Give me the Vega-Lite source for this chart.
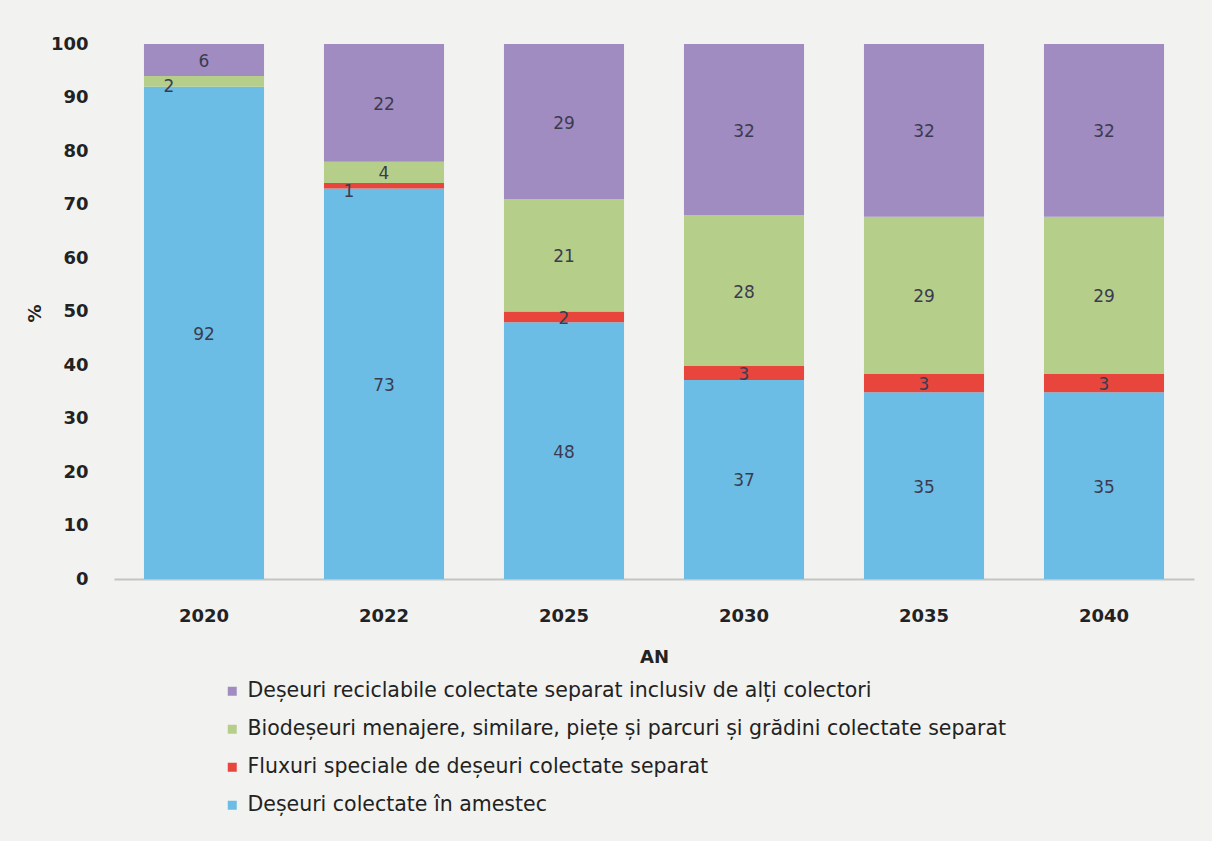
{
  "$schema": "https://vega.github.io/schema/vega-lite/v6.json",
  "width": 1080,
  "height": 535,
  "autosize": "none",
  "padding": {"left": 114, "top": 44, "right": 18, "bottom": 262},
  "background": "#f2f2f0",
  "config": {"view": {"stroke": null}, "font": "DejaVu Sans"},
  "data": {"values": [
    {"an": "2020", "cat": "Deșeuri colectate în amestec", "ord": 1, "val": 92},
    {"an": "2020", "cat": "Fluxuri speciale de deșeuri colectate separat", "ord": 2, "val": 0},
    {"an": "2020", "cat": "Biodeșeuri menajere, similare, piețe și parcuri și grădini colectate separat", "ord": 3, "val": 2},
    {"an": "2020", "cat": "Deșeuri reciclabile colectate separat inclusiv de alți colectori", "ord": 4, "val": 6},
    {"an": "2022", "cat": "Deșeuri colectate în amestec", "ord": 1, "val": 73},
    {"an": "2022", "cat": "Fluxuri speciale de deșeuri colectate separat", "ord": 2, "val": 1},
    {"an": "2022", "cat": "Biodeșeuri menajere, similare, piețe și parcuri și grădini colectate separat", "ord": 3, "val": 4},
    {"an": "2022", "cat": "Deșeuri reciclabile colectate separat inclusiv de alți colectori", "ord": 4, "val": 22},
    {"an": "2025", "cat": "Deșeuri colectate în amestec", "ord": 1, "val": 48},
    {"an": "2025", "cat": "Fluxuri speciale de deșeuri colectate separat", "ord": 2, "val": 2},
    {"an": "2025", "cat": "Biodeșeuri menajere, similare, piețe și parcuri și grădini colectate separat", "ord": 3, "val": 21},
    {"an": "2025", "cat": "Deșeuri reciclabile colectate separat inclusiv de alți colectori", "ord": 4, "val": 29},
    {"an": "2030", "cat": "Deșeuri colectate în amestec", "ord": 1, "val": 37.2},
    {"an": "2030", "cat": "Fluxuri speciale de deșeuri colectate separat", "ord": 2, "val": 2.6},
    {"an": "2030", "cat": "Biodeșeuri menajere, similare, piețe și parcuri și grădini colectate separat", "ord": 3, "val": 28.2},
    {"an": "2030", "cat": "Deșeuri reciclabile colectate separat inclusiv de alți colectori", "ord": 4, "val": 32},
    {"an": "2035", "cat": "Deșeuri colectate în amestec", "ord": 1, "val": 34.9},
    {"an": "2035", "cat": "Fluxuri speciale de deșeuri colectate separat", "ord": 2, "val": 3.4},
    {"an": "2035", "cat": "Biodeșeuri menajere, similare, piețe și parcuri și grădini colectate separat", "ord": 3, "val": 29.4},
    {"an": "2035", "cat": "Deșeuri reciclabile colectate separat inclusiv de alți colectori", "ord": 4, "val": 32.3},
    {"an": "2040", "cat": "Deșeuri colectate în amestec", "ord": 1, "val": 34.9},
    {"an": "2040", "cat": "Fluxuri speciale de deșeuri colectate separat", "ord": 2, "val": 3.4},
    {"an": "2040", "cat": "Biodeșeuri menajere, similare, piețe și parcuri și grădini colectate separat", "ord": 3, "val": 29.4},
    {"an": "2040", "cat": "Deșeuri reciclabile colectate separat inclusiv de alți colectori", "ord": 4, "val": 32.3}
  ]},
  "transform": [
    {"stack": "val", "groupby": ["an"], "sort": [{"field": "ord", "order": "ascending"}], "as": ["y0", "y1"]},
    {"calculate": "(datum.y0 + datum.y1) / 2", "as": "ymid"}
  ],
  "encoding": {
    "x": {
      "field": "an", "type": "ordinal", "title": "AN",
      "scale": {"paddingInner": 0.333, "paddingOuter": 0.1665},
      "axis": {
        "labelAngle": 0, "labelFont": "DejaVu Sans", "labelFontWeight": "bold", "labelFontSize": 18, "labelColor": "#222222",
        "labelPadding": 28, "ticks": false, "domainColor": "#c4c4c4", "domainWidth": 2,
        "titleFont": "DejaVu Sans", "titleFontWeight": "bold", "titleFontSize": 18, "titleColor": "#222222", "titlePadding": 23
      }
    }
  },
  "layer": [
    {
      "mark": {"type": "bar"},
      "encoding": {
        "y": {"field": "y0", "type": "quantitative", "title": "%",
          "scale": {"domain": [0, 100], "nice": false},
          "axis": {
            "values": [0, 10, 20, 30, 40, 50, 60, 70, 80, 90, 100], "grid": false, "domain": false, "ticks": false,
            "labelFont": "DejaVu Sans", "labelFontWeight": "bold", "labelFontSize": 18, "labelColor": "#222222", "labelPadding": 26,
            "titleFont": "DejaVu Sans", "titleFontWeight": "bold", "titleFontSize": 18, "titleColor": "#222222",
            "titleX": -79, "titleY": 269, "titleAngle": -90, "titleAlign": "center", "titleBaseline": "middle"
          }
        },
        "y2": {"field": "y1"},
        "color": {
          "field": "cat", "type": "nominal",
          "scale": {
            "domain": [
              "Deșeuri reciclabile colectate separat inclusiv de alți colectori",
              "Biodeșeuri menajere, similare, piețe și parcuri și grădini colectate separat",
              "Fluxuri speciale de deșeuri colectate separat",
              "Deșeuri colectate în amestec"
            ],
            "range": ["#a08cc0", "#b5cf8a", "#e8453c", "#6bbde6"]
          },
          "legend": {
            "title": null, "orient": "none", "legendX": 108, "legendY": 637, "direction": "vertical",
            "symbolType": "square", "symbolSize": 81, "symbolStrokeWidth": 0, "labelFont": "DejaVu Sans", "labelFontSize": 20.5,
            "labelColor": "#222222", "labelLimit": 1000, "rowPadding": 17, "labelOffset": 5
          }
        }
      }
    },
    {
      "transform": [{"filter": "datum.val > 0 && !(datum.val <= 2 && datum.y0 > 70)"}],
      "mark": {"type": "text", "font": "DejaVu Sans", "fontSize": 17, "color": "#3b3b50", "baseline": "middle", "dy": 2},
      "encoding": {
        "y": {"field": "ymid", "type": "quantitative"},
        "text": {"field": "val", "type": "quantitative", "format": ".0f"}
      }
    },
    {
      "transform": [{"filter": "datum.val > 0 && datum.val <= 2 && datum.y0 > 70"}],
      "mark": {"type": "text", "font": "DejaVu Sans", "fontSize": 17, "color": "#3b3b50", "baseline": "middle", "dy": 6, "dx": -35},
      "encoding": {
        "y": {"field": "ymid", "type": "quantitative"},
        "text": {"field": "val", "type": "quantitative", "format": ".0f"}
      }
    }
  ]
}
